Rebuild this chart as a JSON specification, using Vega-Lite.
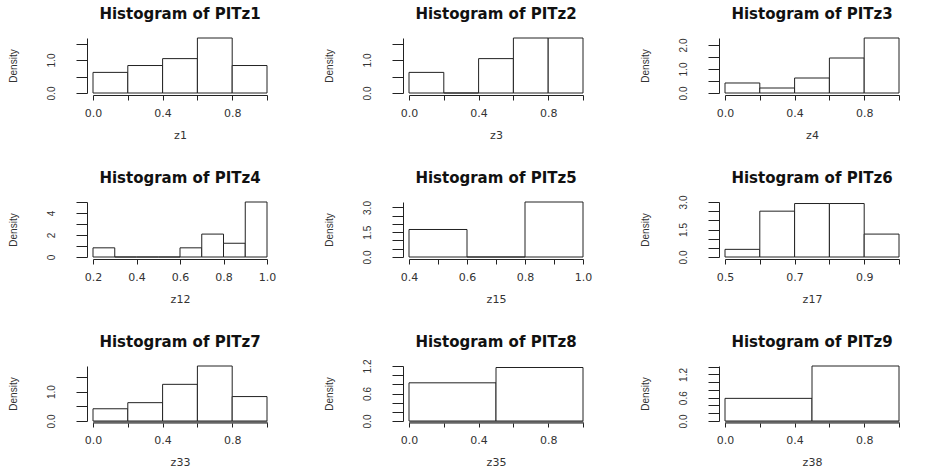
{
  "$schema": "https://vega.github.io/schema/vega-lite/v6.json",
  "background": "white",
  "padding": {"left": 8, "top": 6, "right": 5, "bottom": 5},
  "datasets": {
    "h": [
      {"p": 1, "x0": 0.0, "x1": 0.2, "d": 0.625},
      {"p": 1, "x0": 0.2, "x1": 0.4, "d": 0.833},
      {"p": 1, "x0": 0.4, "x1": 0.6, "d": 1.042},
      {"p": 1, "x0": 0.6, "x1": 0.8, "d": 1.667},
      {"p": 1, "x0": 0.8, "x1": 1.0, "d": 0.833},
      {"p": 2, "x0": 0.0, "x1": 0.2, "d": 0.625},
      {"p": 2, "x0": 0.2, "x1": 0.4, "d": 0},
      {"p": 2, "x0": 0.4, "x1": 0.6, "d": 1.042},
      {"p": 2, "x0": 0.6, "x1": 0.8, "d": 1.667},
      {"p": 2, "x0": 0.8, "x1": 1.0, "d": 1.667},
      {"p": 3, "x0": 0.0, "x1": 0.2, "d": 0.417},
      {"p": 3, "x0": 0.2, "x1": 0.4, "d": 0.208},
      {"p": 3, "x0": 0.4, "x1": 0.6, "d": 0.625},
      {"p": 3, "x0": 0.6, "x1": 0.8, "d": 1.458},
      {"p": 3, "x0": 0.8, "x1": 1.0, "d": 2.292},
      {"p": 4, "x0": 0.2, "x1": 0.3, "d": 0.833},
      {"p": 4, "x0": 0.3, "x1": 0.4, "d": 0},
      {"p": 4, "x0": 0.4, "x1": 0.5, "d": 0},
      {"p": 4, "x0": 0.5, "x1": 0.6, "d": 0},
      {"p": 4, "x0": 0.6, "x1": 0.7, "d": 0.833},
      {"p": 4, "x0": 0.7, "x1": 0.8, "d": 2.083},
      {"p": 4, "x0": 0.8, "x1": 0.9, "d": 1.25},
      {"p": 4, "x0": 0.9, "x1": 1.0, "d": 5.0},
      {"p": 5, "x0": 0.4, "x1": 0.6, "d": 1.667},
      {"p": 5, "x0": 0.6, "x1": 0.8, "d": 0},
      {"p": 5, "x0": 0.8, "x1": 1.0, "d": 3.333},
      {"p": 6, "x0": 0.5, "x1": 0.6, "d": 0.417},
      {"p": 6, "x0": 0.6, "x1": 0.7, "d": 2.5},
      {"p": 6, "x0": 0.7, "x1": 0.8, "d": 2.917},
      {"p": 6, "x0": 0.8, "x1": 0.9, "d": 2.917},
      {"p": 6, "x0": 0.9, "x1": 1.0, "d": 1.25},
      {"p": 7, "x0": 0.0, "x1": 0.2, "d": 0.417},
      {"p": 7, "x0": 0.2, "x1": 0.4, "d": 0.625},
      {"p": 7, "x0": 0.4, "x1": 0.6, "d": 1.25},
      {"p": 7, "x0": 0.6, "x1": 0.8, "d": 1.875},
      {"p": 7, "x0": 0.8, "x1": 1.0, "d": 0.833},
      {"p": 8, "x0": 0.0, "x1": 0.5, "d": 0.833},
      {"p": 8, "x0": 0.5, "x1": 1.0, "d": 1.167},
      {"p": 9, "x0": 0.0, "x1": 0.5, "d": 0.583},
      {"p": 9, "x0": 0.5, "x1": 1.0, "d": 1.417}
    ]
  },
  "columns": 3,
  "bounds": "flush",
  "spacing": {"row": 109, "column": 142},
  "concat": [
    {
      "width": 174, "height": 55, "title": "Histogram of PITz1",
      "data": {"name": "h"}, "transform": [{"filter": "datum.p == 1"}],
      "mark": {"type": "rect", "fill": "white", "stroke": "#222", "strokeWidth": 1},
      "encoding": {
        "x": {"field": "x0", "type": "quantitative", "scale": {"domain": [0, 1], "nice": false, "zero": false},
              "axis": {"title": "z1", "values": [0, 0.2, 0.4, 0.6, 0.8, 1], "format": ".1f", "labelExpr": "indexof(['0.0','0.4','0.8'], datum.label) >= 0 ? datum.label : ''"}},
        "x2": {"field": "x1"},
        "y": {"field": "d", "type": "quantitative", "scale": {"domain": [0, 1.667], "nice": false},
              "axis": {"title": "Density", "values": [0, 0.5, 1, 1.5], "format": ".1f", "labelExpr": "indexof(['0.0','1.0'], datum.label) >= 0 ? datum.label : ''"}},
        "y2": {"datum": 0}
      }
    },
    {
      "width": 174, "height": 55, "title": "Histogram of PITz2",
      "data": {"name": "h"}, "transform": [{"filter": "datum.p == 2"}],
      "mark": {"type": "rect", "fill": "white", "stroke": "#222", "strokeWidth": 1},
      "encoding": {
        "x": {"field": "x0", "type": "quantitative", "scale": {"domain": [0, 1], "nice": false, "zero": false},
              "axis": {"title": "z3", "values": [0, 0.2, 0.4, 0.6, 0.8, 1], "format": ".1f", "labelExpr": "indexof(['0.0','0.4','0.8'], datum.label) >= 0 ? datum.label : ''"}},
        "x2": {"field": "x1"},
        "y": {"field": "d", "type": "quantitative", "scale": {"domain": [0, 1.667], "nice": false},
              "axis": {"title": "Density", "values": [0, 0.5, 1, 1.5], "format": ".1f", "labelExpr": "indexof(['0.0','1.0'], datum.label) >= 0 ? datum.label : ''"}},
        "y2": {"datum": 0}
      }
    },
    {
      "width": 174, "height": 55, "title": "Histogram of PITz3",
      "data": {"name": "h"}, "transform": [{"filter": "datum.p == 3"}],
      "mark": {"type": "rect", "fill": "white", "stroke": "#222", "strokeWidth": 1},
      "encoding": {
        "x": {"field": "x0", "type": "quantitative", "scale": {"domain": [0, 1], "nice": false, "zero": false},
              "axis": {"title": "z4", "values": [0, 0.2, 0.4, 0.6, 0.8, 1], "format": ".1f", "labelExpr": "indexof(['0.0','0.4','0.8'], datum.label) >= 0 ? datum.label : ''"}},
        "x2": {"field": "x1"},
        "y": {"field": "d", "type": "quantitative", "scale": {"domain": [0, 2.292], "nice": false},
              "axis": {"title": "Density", "values": [0, 0.5, 1, 1.5, 2], "format": ".1f", "labelExpr": "indexof(['0.0','1.0','2.0'], datum.label) >= 0 ? datum.label : ''"}},
        "y2": {"datum": 0}
      }
    },
    {
      "width": 174, "height": 55, "title": "Histogram of PITz4",
      "data": {"name": "h"}, "transform": [{"filter": "datum.p == 4"}],
      "mark": {"type": "rect", "fill": "white", "stroke": "#222", "strokeWidth": 1},
      "encoding": {
        "x": {"field": "x0", "type": "quantitative", "scale": {"domain": [0.2, 1], "nice": false, "zero": false},
              "axis": {"title": "z12", "values": [0.2, 0.4, 0.6, 0.8, 1], "format": ".1f"}},
        "x2": {"field": "x1"},
        "y": {"field": "d", "type": "quantitative", "scale": {"domain": [0, 5], "nice": false},
              "axis": {"title": "Density", "values": [0, 1, 2, 3, 4, 5], "format": "d", "labelExpr": "indexof(['0','2','4'], datum.label) >= 0 ? datum.label : ''"}},
        "y2": {"datum": 0}
      }
    },
    {
      "width": 174, "height": 55, "title": {"text": "Histogram of PITz5", "offset": 15},
      "data": {"name": "h"}, "transform": [{"filter": "datum.p == 5"}],
      "mark": {"type": "rect", "fill": "white", "stroke": "#222", "strokeWidth": 1},
      "encoding": {
        "x": {"field": "x0", "type": "quantitative", "scale": {"domain": [0.4, 1], "nice": false, "zero": false},
              "axis": {"title": "z15", "values": [0.4, 0.5, 0.6, 0.7, 0.8, 0.9, 1], "format": ".1f", "labelExpr": "indexof(['0.4','0.6','0.8','1.0'], datum.label) >= 0 ? datum.label : ''"}},
        "x2": {"field": "x1"},
        "y": {"field": "d", "type": "quantitative", "scale": {"domain": [0, 3.333], "nice": false},
              "axis": {"title": "Density", "values": [0, 0.5, 1, 1.5, 2, 2.5, 3], "format": ".1f", "labelExpr": "indexof(['0.0','1.5','3.0'], datum.label) >= 0 ? datum.label : ''"}},
        "y2": {"datum": 0}
      }
    },
    {
      "width": 174, "height": 55, "title": {"text": "Histogram of PITz6", "offset": 9},
      "data": {"name": "h"}, "transform": [{"filter": "datum.p == 6"}],
      "mark": {"type": "rect", "fill": "white", "stroke": "#222", "strokeWidth": 1},
      "encoding": {
        "x": {"field": "x0", "type": "quantitative", "scale": {"domain": [0.5, 1], "nice": false, "zero": false},
              "axis": {"title": "z17", "values": [0.5, 0.6, 0.7, 0.8, 0.9, 1], "format": ".1f", "labelExpr": "indexof(['0.5','0.7','0.9'], datum.label) >= 0 ? datum.label : ''"}},
        "x2": {"field": "x1"},
        "y": {"field": "d", "type": "quantitative", "scale": {"domain": [0, 3.0], "nice": false},
              "axis": {"title": "Density", "values": [0, 0.5, 1, 1.5, 2, 2.5, 3], "format": ".1f", "labelExpr": "indexof(['0.0','1.5','3.0'], datum.label) >= 0 ? datum.label : ''"}},
        "y2": {"datum": 0}
      }
    },
    {
      "width": 174, "height": 55, "title": "Histogram of PITz7",
      "data": {"name": "h"}, "transform": [{"filter": "datum.p == 7"}],
      "mark": {"type": "rect", "fill": "white", "stroke": "#222", "strokeWidth": 1},
      "encoding": {
        "x": {"field": "x0", "type": "quantitative", "scale": {"domain": [0, 1], "nice": false, "zero": false},
              "axis": {"title": "z33", "values": [0, 0.2, 0.4, 0.6, 0.8, 1], "format": ".1f", "offset": 1, "domainColor": "#666", "domainWidth": 2.5, "labelExpr": "indexof(['0.0','0.4','0.8'], datum.label) >= 0 ? datum.label : ''"}},
        "x2": {"field": "x1"},
        "y": {"field": "d", "type": "quantitative", "scale": {"domain": [0, 1.875], "nice": false},
              "axis": {"title": "Density", "values": [0, 0.5, 1, 1.5], "format": ".1f", "labelExpr": "indexof(['0.0','1.0'], datum.label) >= 0 ? datum.label : ''"}},
        "y2": {"datum": 0}
      }
    },
    {
      "width": 174, "height": 55, "title": {"text": "Histogram of PITz8", "offset": 9},
      "data": {"name": "h"}, "transform": [{"filter": "datum.p == 8"}],
      "mark": {"type": "rect", "fill": "white", "stroke": "#222", "strokeWidth": 1},
      "encoding": {
        "x": {"field": "x0", "type": "quantitative", "scale": {"domain": [0, 1], "nice": false, "zero": false},
              "axis": {"title": "z35", "values": [0, 0.2, 0.4, 0.6, 0.8, 1], "format": ".1f", "offset": 1, "domainColor": "#666", "domainWidth": 2.5, "labelExpr": "indexof(['0.0','0.4','0.8'], datum.label) >= 0 ? datum.label : ''"}},
        "x2": {"field": "x1"},
        "y": {"field": "d", "type": "quantitative", "scale": {"domain": [0, 1.2], "nice": false},
              "axis": {"title": "Density", "values": [0, 0.2, 0.4, 0.6, 0.8, 1, 1.2], "format": ".1f", "labelExpr": "indexof(['0.0','0.6','1.2'], datum.label) >= 0 ? datum.label : ''"}},
        "y2": {"datum": 0}
      }
    },
    {
      "width": 174, "height": 55, "title": "Histogram of PITz9",
      "data": {"name": "h"}, "transform": [{"filter": "datum.p == 9"}],
      "mark": {"type": "rect", "fill": "white", "stroke": "#222", "strokeWidth": 1},
      "encoding": {
        "x": {"field": "x0", "type": "quantitative", "scale": {"domain": [0, 1], "nice": false, "zero": false},
              "axis": {"title": "z38", "values": [0, 0.2, 0.4, 0.6, 0.8, 1], "format": ".1f", "offset": 1, "domainColor": "#666", "domainWidth": 2.5, "labelExpr": "indexof(['0.0','0.4','0.8'], datum.label) >= 0 ? datum.label : ''"}},
        "x2": {"field": "x1"},
        "y": {"field": "d", "type": "quantitative", "scale": {"domain": [0, 1.417], "nice": false},
              "axis": {"title": "Density", "values": [0, 0.2, 0.4, 0.6, 0.8, 1, 1.2, 1.4], "format": ".1f", "labelExpr": "indexof(['0.0','0.6','1.2'], datum.label) >= 0 ? datum.label : ''"}},
        "y2": {"datum": 0}
      }
    }
  ],
  "config": {
    "view": {"stroke": null},
    "title": {"font": "DejaVu Sans", "fontSize": 15, "fontWeight": "bold", "color": "#111", "anchor": "middle", "frame": "group", "offset": 16},
    "axis": {"grid": false, "domainColor": "#222", "tickColor": "#222", "labelColor": "#333", "titleColor": "#333", "labelOverlap": false, "labelFlush": false, "labelBound": false},
    "axisX": {"offset": 2, "tickSize": 5, "labelPadding": 7, "labelFont": "DejaVu Sans", "labelFontSize": 11, "titleFont": "DejaVu Sans", "titleFontSize": 11, "titleFontWeight": "normal", "titlePadding": 11},
    "axisY": {"offset": 6, "tickSize": 11, "labelAngle": -90, "labelPadding": 20, "labelFont": "Liberation Sans", "labelFontSize": 10, "titleFont": "Liberation Sans", "titleFontSize": 10, "titleFontWeight": "normal", "titlePadding": 28}
  }
}
